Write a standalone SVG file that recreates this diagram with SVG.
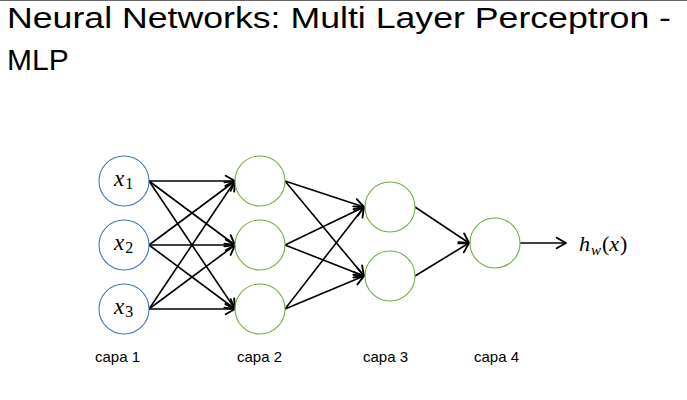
<svg xmlns="http://www.w3.org/2000/svg" width="687" height="400" viewBox="0 0 687 400">
<defs>
<style>
.title{font-family:"Liberation Sans",Arial,sans-serif;font-size:30px;fill:#000}
.lbl{font-family:"Liberation Sans",Arial,sans-serif;font-size:15px;fill:#000}
.math{font-family:"Liberation Serif","DejaVu Serif",serif;font-style:italic;fill:#000}
.in{fill:#fff;stroke:#4472C4;stroke-width:1.1}
.hid{fill:#fff;stroke:#70AD47;stroke-width:1.1}
.e{stroke:#000;stroke-width:1.6;fill:none;marker-end:url(#ah)}
</style>
<marker id="ah" markerUnits="userSpaceOnUse" markerWidth="14" markerHeight="14" refX="10" refY="6" orient="auto" viewBox="0 0 12 12">
<path d="M2,1.5 L10,6 L2,10.5" fill="none" stroke="#000" stroke-width="1.6" stroke-linecap="round" stroke-linejoin="round"/>
</marker>
</defs>
<rect x="0" y="0" width="687" height="400" fill="#fff"/>
<line x1="0" y1="0.5" x2="687" y2="0.5" stroke="#666" stroke-width="1"/>
<text class="title" x="7" y="28" textLength="664" lengthAdjust="spacingAndGlyphs">Neural Networks: Multi Layer Perceptron -</text>
<text class="title" x="7" y="70">MLP</text>
<g id="connectors">
<line class="e" x1="149" y1="181" x2="235" y2="181"/>
<line class="e" x1="149" y1="181" x2="235" y2="245"/>
<line class="e" x1="149" y1="181" x2="235" y2="309"/>
<line class="e" x1="149" y1="245" x2="235" y2="181"/>
<line class="e" x1="149" y1="245" x2="235" y2="245"/>
<line class="e" x1="149" y1="245" x2="235" y2="309"/>
<line class="e" x1="149" y1="309" x2="235" y2="181"/>
<line class="e" x1="149" y1="309" x2="235" y2="245"/>
<line class="e" x1="149" y1="309" x2="235" y2="309"/>
<line class="e" x1="285" y1="181" x2="364" y2="207"/>
<line class="e" x1="285" y1="181" x2="364" y2="276"/>
<line class="e" x1="285" y1="245" x2="364" y2="207"/>
<line class="e" x1="285" y1="245" x2="364" y2="276"/>
<line class="e" x1="285" y1="309" x2="364" y2="207"/>
<line class="e" x1="285" y1="309" x2="364" y2="276"/>
<line class="e" x1="415" y1="207" x2="469" y2="243"/>
<line class="e" x1="415" y1="276" x2="469" y2="243"/>
<line class="e" x1="520" y1="243" x2="566" y2="243"/>
</g>
<g id="x1"><circle class="in" cx="124" cy="181" r="25"/><text class="math" x="114" y="186" font-size="23">x<tspan font-style="normal" font-size="16" dy="3" dx="1">1</tspan></text></g>
<g id="x2"><circle class="in" cx="124" cy="245" r="25"/><text class="math" x="114" y="250" font-size="23">x<tspan font-style="normal" font-size="16" dy="3" dx="1">2</tspan></text></g>
<g id="x3"><circle class="in" cx="124" cy="309" r="25"/><text class="math" x="114" y="314" font-size="23">x<tspan font-style="normal" font-size="16" dy="3" dx="1">3</tspan></text></g>
<g id="h21"><circle class="hid" cx="260" cy="181" r="25"/></g>
<g id="h22"><circle class="hid" cx="260" cy="245" r="25"/></g>
<g id="h23"><circle class="hid" cx="260" cy="309" r="25"/></g>
<g id="h31"><circle class="hid" cx="390" cy="207" r="25"/></g>
<g id="h32"><circle class="hid" cx="390" cy="276" r="25"/></g>
<g id="out"><circle class="hid" cx="495" cy="243" r="25"/></g>
<g id="hw"><text class="math" x="579" y="251" font-size="22">h<tspan font-size="15" dy="4" dx="1">w</tspan><tspan dy="-4" dx="1" font-style="normal">(</tspan>x<tspan font-style="normal" dx="1">)</tspan></text></g>
<g id="labels">
<text class="lbl" x="95" y="362">capa 1</text>
<text class="lbl" x="237" y="362">capa 2</text>
<text class="lbl" x="363" y="362">capa 3</text>
<text class="lbl" x="474" y="362">capa 4</text>
</g>
</svg>
